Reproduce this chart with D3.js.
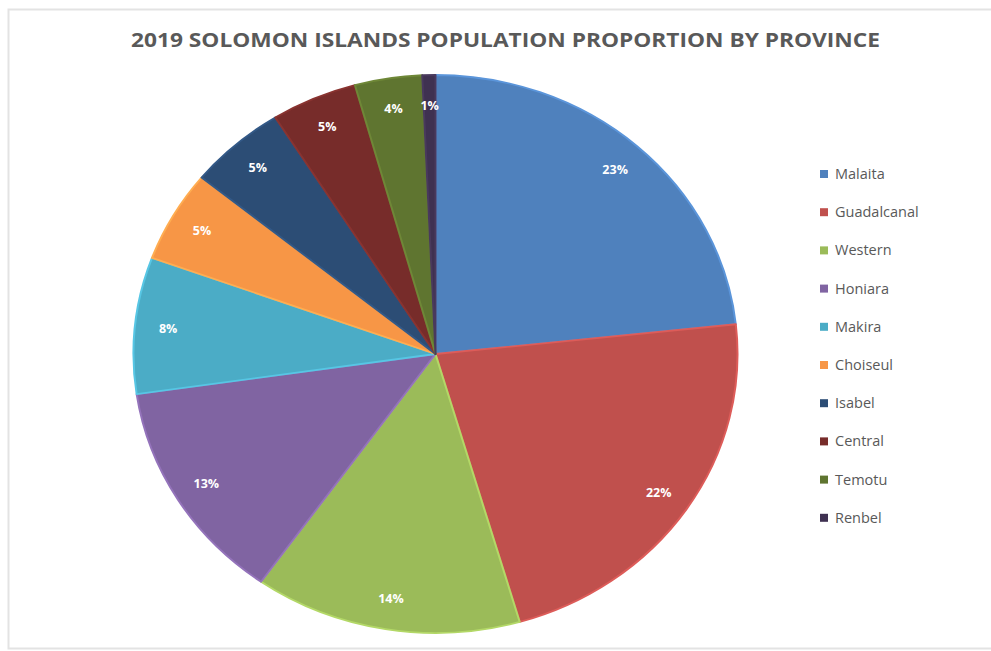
<!DOCTYPE html>
<html><head><meta charset="utf-8">
<script src="https://cdn.jsdelivr.net/npm/d3@7"></script>
<style>html,body{margin:0;padding:0;background:#fff;}svg{display:block;}</style>
</head><body>
<svg id="chart" width="991" height="651"></svg>
<script>
const title = "2019 SOLOMON ISLANDS POPULATION PROPORTION BY PROVINCE";
const provinces = ["Malaita","Guadalcanal","Western","Honiara","Makira","Choiseul","Isabel","Central","Temotu","Renbel"];
const shares = [23.3, 22.2, 14.3, 12.9, 7.9, 5.3, 5.2, 4.6, 3.6, 0.7];
const colors = ["#4F81BD","#C0504D","#9BBB59","#8064A2","#4BACC6","#F79646","#2C4D75","#772C2A","#5F7530","#3F3151"];

const svg = d3.select("#chart");
svg.append("rect").attr("x",8.5).attr("y",9.5).attr("width",990).attr("height",639)
  .attr("fill","#fff").attr("stroke","#e3e3e3").attr("stroke-width",2);

svg.append("text").attr("x",505.5).attr("y",47).attr("text-anchor","middle")
  .attr("font-family","'Open Sans', sans-serif").attr("font-weight","bold").attr("font-size",19)
  .attr("fill","#595959").attr("textLength",749).attr("lengthAdjust","spacingAndGlyphs").text(title);

const data = provinces.map((p,i)=>({name:p, value:shares[i], color:colors[i]}));
const cx = 435.5, cy = 354, rx = 302, ry = 279;
const R = 300;
const pie = d3.pie().value(d=>d.value).sort(null);
const arcs = pie(data);
const arc = d3.arc().innerRadius(0).outerRadius(R);
const g = svg.append("g").attr("transform",`translate(${cx},${cy}) scale(${rx/R},${ry/R})`);
g.selectAll("path").data(arcs).enter().append("path")
  .attr("d",arc).attr("fill",d=>d.data.color)
  .attr("stroke",d=>d3.color(d.data.color).brighter(0.4)).attr("stroke-width",2)
  .attr("stroke-linejoin","round");

const labelArc = d3.arc().innerRadius(R*0.89).outerRadius(R*0.89);
svg.append("g").selectAll("text").data(arcs).enter().append("text")
  .attr("x",d=>cx + labelArc.centroid(d)[0]*rx/R)
  .attr("y",d=>cy + labelArc.centroid(d)[1]*ry/R)
  .attr("dy","0.35em").attr("text-anchor","middle")
  .attr("font-family","'Open Sans', sans-serif").attr("font-weight","bold").attr("font-size",12.5)
  .attr("fill","#fff").text(d=>Math.round(d.data.value)+"%");

const lg = svg.append("g");
const rows = lg.selectAll("g").data(data).enter().append("g")
  .attr("transform",(d,i)=>`translate(820,${174 + i*38.2})`);
rows.append("rect").attr("x",0).attr("y",-4).attr("width",8).attr("height",8).attr("fill",d=>d.color);
rows.append("text").attr("x",15).attr("y",0).attr("dy","0.35em")
  .attr("font-family","'Open Sans', sans-serif").attr("font-size",14.5).attr("fill","#595959")
  .text(d=>d.name);
</script>
</body></html>
